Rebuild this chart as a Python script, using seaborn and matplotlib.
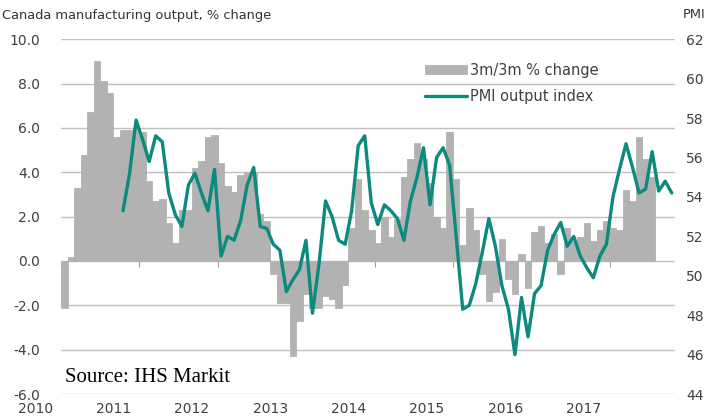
import matplotlib
matplotlib.use("Agg")
import matplotlib.pyplot as plt
import seaborn as sns

start_year = 2010
years = [2010, 2011, 2012, 2013, 2014, 2015, 2016, 2017]

# 3m/3m % change, monthly from Jan 2010
output_change = [-2.1, 0.2, 3.3, 4.8, 6.7, 9.0, 8.1, 7.6, 5.6, 5.9,
                 5.9, 6.0, 5.8, 3.6, 2.7, 2.8, 1.7, 0.8, 2.3, 2.3,
                 4.2, 4.5, 5.6, 5.7, 4.4, 3.4, 3.1, 3.9, 4.0, 4.0,
                 2.1, 1.8, -0.6, -1.9, -1.9, -4.3, -2.7, -1.5, -2.1, -2.1,
                 -1.6, -1.7, -2.1, -1.1, 1.5, 3.7, 2.3, 1.4, 0.8, 2.0,
                 1.1, 1.9, 3.8, 4.6, 5.3, 4.6, 3.5, 2.0, 1.5, 5.8,
                 3.7, 0.7, 2.4, 1.4, -0.6, -1.8, -1.4, 1.0, -0.8, -1.5,
                 0.3, -1.2, 1.3, 1.6, 0.8, 1.2, -0.6, 1.5, 0.9, 1.1,
                 1.7, 0.9, 1.4, 1.8, 1.5, 1.4, 3.2, 2.7, 5.6, 4.6,
                 3.8]

# PMI output index, monthly from Oct 2010
pmi_first_month = 9
pmi_output = [53.3, 55.2, 57.9, 56.9, 55.8, 57.1, 56.8, 54.2, 53.1, 52.5,
              54.6, 55.2, 54.2, 53.3, 55.4, 51.0, 52.0, 51.8, 52.8, 54.6,
              55.5, 52.5, 52.4, 51.6, 51.3, 49.2, 49.8, 50.3, 51.8, 48.1,
              50.6, 53.8, 53.0, 51.8, 51.6, 53.3, 56.6, 57.1, 53.7, 52.6,
              53.6, 53.3, 52.9, 51.8, 53.8, 55.0, 56.5, 53.6, 56.0, 56.5,
              55.6, 52.0, 48.3, 48.5, 49.6, 51.2, 52.9, 51.5, 49.5, 48.3,
              46.0, 48.9, 46.9, 49.1, 49.5, 51.3, 52.1, 52.7, 51.5, 52.0,
              51.0, 50.4, 49.9, 51.0, 51.6, 54.0, 55.4, 56.7, 55.5, 54.2,
              54.4, 56.3, 54.3, 54.8, 54.2]

bar_x = [start_year + (i + 0.5) / 12 for i in range(len(output_change))]
pmi_x = [start_year + (pmi_first_month + i + 0.5) / 12 for i in range(len(pmi_output))]

sns.set_style("white")
plt.rcParams["font.family"] = ["DejaVu Sans"]

txt = "#404040"
grid = "#c0c0c0"
teal = "#0b8a7e"
bar_col = "#b2b2b2"

fig = plt.figure(figsize=(7.1, 4.2), dpi=100)
ax = fig.add_axes([61 / 710, 1 - 394 / 420, 614 / 710, 354.7 / 420])

sns.barplot(x=bar_x, y=output_change, native_scale=True, orient="x", width=1,
            color=bar_col, saturation=1, linewidth=0.6, edgecolor=bar_col,
            errorbar=None, label="3m/3m % change", ax=ax)
if ax.get_legend() is not None:
    ax.get_legend().remove()
ax.set_xlim(start_year, start_year + 94 / 12)
ax.set_ylim(-6, 10)
ax.set_yticks(range(-6, 11, 2))
ax.set_yticklabels([f"{v:.1f}" for v in range(-6, 11, 2)])
ax.yaxis.grid(True, color=grid, linewidth=1)
ax.xaxis.grid(False)
ax.set_axisbelow(True)
for s in ax.spines.values():
    s.set_visible(False)
ax.tick_params(axis="y", length=0, pad=15, labelsize=10, labelcolor=txt)
ax.set_xticks([])
ax.set_xlabel("")
ax.set_ylabel("")

# small year ticks sitting on the zero line
sec = ax.secondary_xaxis(6 / 16)
sec.set_xticks(years)
sec.tick_params(length=4, color="#a0a0a0", labelbottom=False)
sec.spines["bottom"].set_visible(False)

for yr in years:
    ax.text(yr - 0.33, -0.043, str(yr), transform=ax.get_xaxis_transform(),
            ha="center", va="center", fontsize=10, color=txt, clip_on=False)

ax2 = ax.twinx()
sns.lineplot(x=pmi_x, y=pmi_output, color=teal, linewidth=2.4,
             label="PMI output index", ax=ax2)
ax2.set_ylim(44, 62)
ax2.set_yticks(range(44, 63, 2))
for s in ax2.spines.values():
    s.set_visible(False)
ax2.tick_params(axis="y", length=0, pad=8, labelsize=10, labelcolor=txt)
ax2.set_ylabel("")

h1, l1 = ax.get_legend_handles_labels()
h2, l2 = ax2.get_legend_handles_labels()
ax2.legend(h1 + h2, l1 + l2, loc="upper left", bbox_to_anchor=(425 / 710, 1 - 63 / 420),
           bbox_transform=fig.transFigure, frameon=False, fontsize=10.5,
           handlelength=2.9, handleheight=0.6, handletextpad=0.2, labelspacing=0.75,
           borderpad=0, borderaxespad=0, labelcolor=txt)

fig.text(2 / 710, 1 - 15 / 420, "Canada manufacturing output, % change",
         ha="left", va="center", fontsize=9.4, color="#333333")
fig.text(683 / 710, 1 - 15 / 420, "PMI", ha="left", va="center",
         fontsize=9.4, color="#333333")
fig.text(65 / 710, 1 - 378 / 420, "Source: IHS Markit", ha="left", va="center",
         fontsize=15, color="black", family="Liberation Serif")

fig.savefig("out.png", dpi=100)
